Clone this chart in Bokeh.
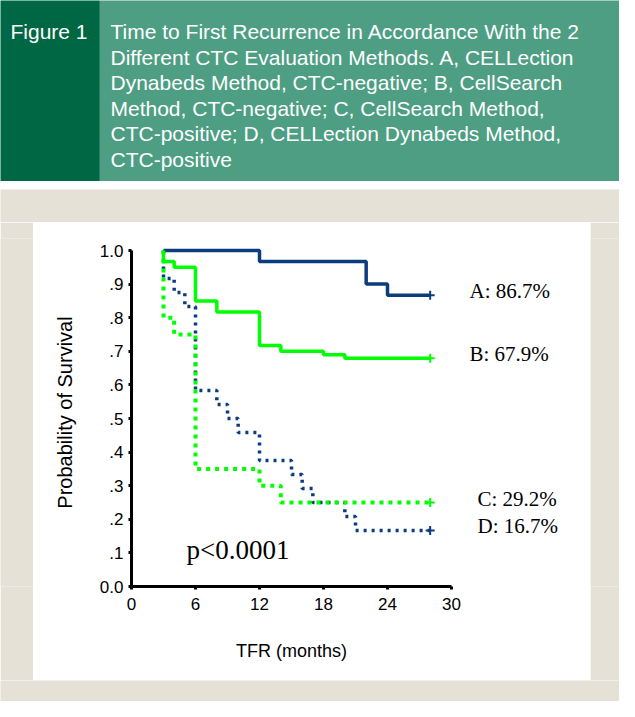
from bokeh.plotting import figure
from bokeh.layouts import column, row
from bokeh.models import (Range1d, FixedTicker, CustomJSTickFormatter, ColumnDataSource, Spacer)
from bokeh.core.properties import value
from bokeh.embed import file_html
from bokeh.resources import INLINE

# ---------------- data ----------------
FIG_LABEL = "Figure 1"
CAPTION_LINES = [
    "Time to First Recurrence in Accordance With the 2",
    "Different CTC Evaluation Methods. A, CELLection",
    "Dynabeds Method, CTC-negative; B, CellSearch",
    "Method, CTC-negative; C, CellSearch Method,",
    "CTC-positive; D, CELLection Dynabeds Method,",
    "CTC-positive",
]

# Kaplan-Meier step curves (time in months, survival probability)
A_t = [3, 12, 22, 24, 28]
A_s = [1.0, 0.967, 0.900, 0.867, 0.867]

B_t = [3, 3, 4, 6, 8, 12, 14, 18, 20, 28]
B_s = [1.0, 0.967, 0.950, 0.850, 0.817, 0.717, 0.700, 0.690, 0.679, 0.679]

C_t = [3, 3, 4, 6, 12, 14, 28]
C_s = [1.0, 0.80, 0.75, 0.35, 0.30, 0.25, 0.25]

D_t = [3, 3, 4, 5, 6, 8, 9, 10, 12, 15, 16, 17, 20, 21, 28]
D_s = [1.0, 0.917, 0.875, 0.833, 0.583, 0.542, 0.500, 0.458, 0.375, 0.333,
       0.292, 0.250, 0.208, 0.167, 0.167]

SERIES_LABELS = ["A: 86.7%", "B: 67.9%", "C: 29.2%", "D: 16.7%"]
P_VALUE_TEXT = "p<0.0001"

X_TICKS = [0, 6, 12, 18, 24, 30]
Y_TICKS = [0.0, 0.1, 0.2, 0.3, 0.4, 0.5, 0.6, 0.7, 0.8, 0.9, 1.0]
Y_TICK_LABELS = ["0.0", ".1", ".2", ".3", ".4", ".5", ".6", ".7", ".8", ".9", "1.0"]
X_LABEL = "TFR (months)"
Y_LABEL = "Probability of Survival"

# ---------------- styles ----------------
DARK_GREEN = "#006744"
LIGHT_GREEN = "#4d9e83"
BEIGE = "#e5e1d7"
NAVY = "#0b3c7b"
LIME = "#00ff00"
SANS = "Liberation Sans"
SERIF = "Liberation Serif"

W = 619


def pad(w, h, color=BEIGE):
    f = figure(width=w, height=h, toolbar_location=None, output_backend="svg",
               x_axis_type=None, y_axis_type=None, min_border=0,
               x_range=Range1d(0, 1), y_range=Range1d(0, 1))
    f.outline_line_color = None
    f.background_fill_color = color
    f.border_fill_color = color
    f.grid.visible = False
    return f


# ---------------- header ----------------
HH = 181
hdr = figure(width=W, height=HH, toolbar_location=None, output_backend="svg",
             x_axis_type=None, y_axis_type=None, min_border=0,
             x_range=Range1d(0, W), y_range=Range1d(HH, 0))
hdr.outline_line_color = None
hdr.background_fill_color = LIGHT_GREEN
hdr.border_fill_color = LIGHT_GREEN
hdr.quad(left=[0], right=[99], top=[0], bottom=[HH], fill_color=DARK_GREEN, line_color=None)
hdr.text(x=[10], y=[31], text=[FIG_LABEL], text_color="white",
         text_font=value(SANS), text_font_size="21px", text_baseline="alphabetic")
hdr.text(x=[110] * len(CAPTION_LINES),
         y=[31 + 25.6 * i for i in range(len(CAPTION_LINES))],
         text=CAPTION_LINES, text_color="white",
         text_font=value(SANS), text_font_size="21px", text_baseline="alphabetic")

# ---------------- chart ----------------
PANEL_W, CH = 557, 458
LEFT, BOTTOM, TOP, RIGHT = 98, 94, 16, 14
FRAME_W = 320
px_per_unit = 336
frame_h = CH - TOP - BOTTOM
y_range = Range1d(0, frame_h / px_per_unit)
CW = LEFT + FRAME_W + RIGHT
LW = PANEL_W - CW

p = figure(width=CW, height=CH, toolbar_location=None, output_backend="svg",
           x_range=Range1d(X_TICKS[0], X_TICKS[-1]), y_range=y_range)
p.min_border = 0
p.min_border_left = LEFT
p.min_border_bottom = BOTTOM
p.min_border_top = TOP
p.min_border_right = RIGHT
p.outline_line_color = None
p.background_fill_color = "white"
p.border_fill_color = "white"
p.grid.visible = False

for ax in (p.xaxis[0], p.yaxis[0]):
    ax.axis_line_width = 3
    ax.axis_line_color = "black"
    ax.major_tick_line_width = 3
    ax.major_tick_in = 0
    ax.major_tick_out = 3
    ax.minor_tick_line_color = None
    ax.major_label_text_font = SANS
    ax.major_label_text_font_size = "17px"
    ax.major_label_text_color = "black"
    ax.axis_label_text_font = SANS
    ax.axis_label_text_font_style = "normal"
    ax.axis_label_text_color = "black"

p.xaxis.ticker = FixedTicker(ticks=X_TICKS)
p.xaxis.axis_label = X_LABEL
p.xaxis.axis_label_text_font_size = "18px"
p.xaxis.major_label_standoff = 8
p.xaxis.axis_label_standoff = 28

p.yaxis.ticker = FixedTicker(ticks=Y_TICKS)
p.yaxis.bounds = (Y_TICKS[0], Y_TICKS[-1])
p.yaxis.formatter = CustomJSTickFormatter(
    args=dict(vals=Y_TICKS, labs=Y_TICK_LABELS),
    code="for (let i = 0; i < vals.length; i++) { if (Math.abs(vals[i] - tick) < 1e-6) return labs[i]; } return '';")
p.yaxis.axis_label = Y_LABEL
p.yaxis.axis_label_text_font_size = "20px"
p.yaxis.major_label_standoff = 5
p.yaxis.axis_label_standoff = 21

# curves: dotted first, then solid
p.step(D_t, D_s, mode="after", line_color=NAVY, line_width=3.5, line_dash="3 5")
p.step(C_t, C_s, mode="after", line_color=LIME, line_width=4, line_dash="4 5")
p.step(A_t, A_s, mode="after", line_color=NAVY, line_width=3.5)
p.step(B_t, B_s, mode="after", line_color=LIME, line_width=3.5)

ends = ColumnDataSource(dict(
    x=[A_t[-1], B_t[-1], C_t[-1], D_t[-1]],
    y=[A_s[-1], B_s[-1], C_s[-1], D_s[-1]],
    color=[NAVY, LIME, LIME, NAVY],
    label=SERIES_LABELS,
    lx=[4, 4, 12, 12],
))
p.scatter("x", "y", source=ends, marker="cross", size=9, line_width=2, line_color="color")
p.text(x=[5.16], y=[0.11], text=[P_VALUE_TEXT], text_font=value(SERIF),
       text_font_size="27px", text_baseline="alphabetic", text_color="black")

# end-of-curve labels in a companion panel sharing the survival scale
lab = figure(width=LW, height=CH, toolbar_location=None, output_backend="svg",
             x_axis_type=None, y_axis_type=None,
             x_range=Range1d(0, LW), y_range=y_range)
lab.min_border = 0
lab.min_border_top = TOP
lab.min_border_bottom = BOTTOM
lab.outline_line_color = None
lab.background_fill_color = "white"
lab.border_fill_color = "white"
lab.grid.visible = False
lab.text("lx", "y", text="label", source=ends, y_offset=-4,
         text_font=value(SERIF), text_font_size="21px", text_baseline="middle",
         text_color="black")

# ---------------- layout ----------------
layout = column(
    hdr,
    Spacer(width=W, height=8),
    pad(W, 33),
    row(pad(33, CH), p, lab, pad(W - 33 - PANEL_W, CH)),
    pad(W, 701 - HH - 8 - 33 - CH),
)

open("out.html", "w").write(file_html(layout, INLINE))
